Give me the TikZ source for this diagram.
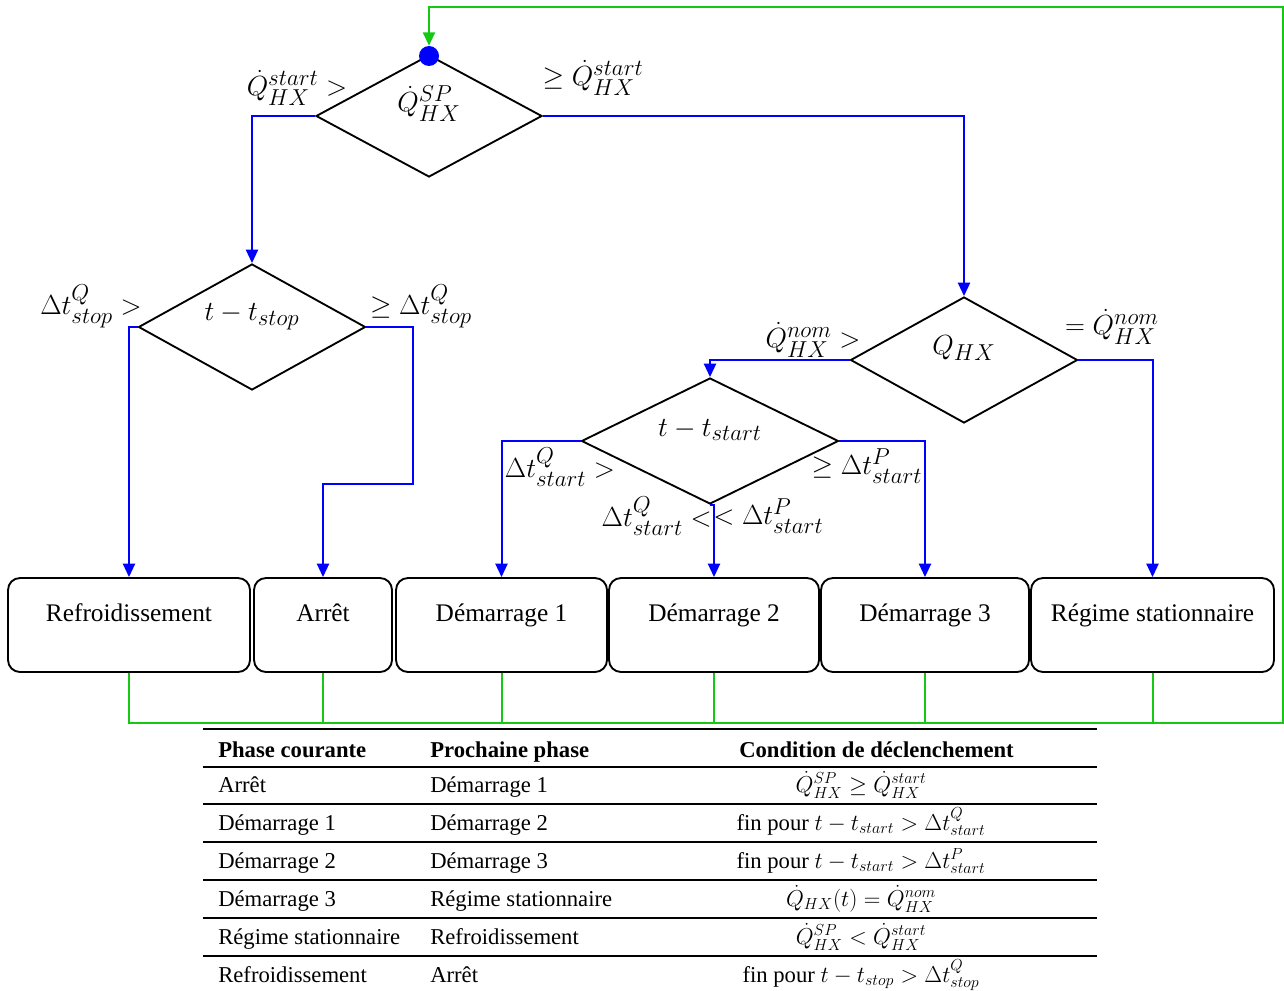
\documentclass[tikz,border=0pt]{standalone}
\usepackage{fontspec}
\setmainfont{Liberation Serif}
\usepackage{amsmath}
\DeclareMathSizes{20}{20}{16}{12}
\usetikzlibrary{arrows.meta,shapes.geometric}
\definecolor{gline}{RGB}{20,200,20}
\definecolor{bline}{RGB}{0,0,255}
\begin{document}
\begin{tikzpicture}[x=0.75pt,y=-0.75pt,
  dec/.style={diamond,draw=black,line width=1.4pt,inner sep=0pt},
  bl/.style={draw=bline,line width=1.5pt,-{Triangle[width=9pt,length=10pt]}},
  gr/.style={draw=gline,line width=1.5pt},
  box/.style={draw=black,line width=1.4pt,rounded corners=9pt,minimum height=70.5pt,inner sep=0pt},
  btxt/.style={anchor=base,inner sep=0pt,font=\fontsize{19}{22}\selectfont},
  lbl/.style={inner sep=0pt,font=\fontsize{20}{24}\selectfont},
  th/.style={anchor=base west,inner sep=0pt,font=\fontsize{17}{20}\selectfont\bfseries},
  td/.style={anchor=base west,inner sep=0pt,font=\fontsize{17}{20}\selectfont},
  tc/.style={anchor=base,inner sep=0pt,font=\fontsize{17}{20}\selectfont},
  rule/.style={line width=1.2pt},
  trule/.style={line width=1.8pt}]
\path[use as bounding box] (0,0) rectangle (1284,991);

% decision diamonds
\node[dec,minimum width=169.5pt,minimum height=91.5pt] (d1) at (429,116) {};
\node[dec,minimum width=170.25pt,minimum height=94.5pt] (d2) at (252,327) {};
\node[dec,minimum width=170.25pt,minimum height=94.5pt] (d3) at (964,360) {};
\node[dec,minimum width=192.75pt,minimum height=94.5pt] (d4) at (710,441) {};

\node[lbl] (d1t) at (429,104) {$\dot Q^{SP}_{HX}$};
\node[lbl] (d2t) at (252,317) {$t-t_{stop}$};
\node[lbl] (d3t) at (964,348) {$Q_{HX}$};
\node[lbl] (d4t) at (710,430) {$t-t_{start}$};

\node[circle,fill=bline,inner sep=0pt,minimum size=15pt] (dot) at (429,56) {};

% branch labels
\node[lbl] (l1) at (297,88) {$\dot Q^{start}_{HX} >$};
\node[lbl] (l2) at (593,78) {$\geq \dot Q^{start}_{HX}$};
\node[lbl] (l3) at (91,306) {$\Delta t^{Q}_{stop} >$};
\node[lbl] (l4) at (421,306) {$\geq \Delta t^{Q}_{stop}$};
\node[lbl] (l5) at (813,340) {$\dot Q^{nom}_{HX} >$};
\node[lbl] (l6) at (1112,327) {$= \dot Q^{nom}_{HX}$};
\node[lbl] (l7) at (560,467) {$\Delta t^{Q}_{start} >$};
\node[lbl] (l8) at (867,466) {$\geq \Delta t^{P}_{start}$};
\node[lbl,anchor=east] (l9) at (712,516) {$\Delta t^{Q}_{start} <$};
\node[lbl,anchor=west] (l10) at (713,516) {$< \Delta t^{P}_{start}$};

% phase boxes
\node[box,minimum width=181.5pt] (b1) at (129,625) {};
\node[box,minimum width=103.5pt] (b2) at (323,625) {};
\node[box,minimum width=158.25pt] (b3) at (501.5,625) {};
\node[box,minimum width=157.5pt] (b4) at (714,625) {};
\node[box,minimum width=156pt] (b5) at (925,625) {};
\node[box,minimum width=182.25pt] (b6) at (1152.5,625) {};

\node[btxt] (b1t) at (129,621) {Refroidissement};
\node[btxt] (b2t) at (323,621) {Arrêt};
\node[btxt] (b3t) at (501.5,621) {Démarrage 1};
\node[btxt] (b4t) at (714,621) {Démarrage 2};
\node[btxt] (b5t) at (925,621) {Démarrage 3};
\node[btxt] (b6t) at (1152.5,621) {Régime stationnaire};

% blue connectors
\coordinate (k1) at (413,484);
\draw[bl] (d1.west) -| (d2.north);
\draw[bl] (d1.east) -| (d3.north);
\draw[bl] (d2.west) -| (b1.north);
\draw[bl] (d2.east) -| (k1) -| (b2.north);
\draw[bl] (d3.west) -| (d4.north);
\draw[bl] (d3.east) -| (b6.north);
\draw[bl] (d4.west) -| (b3.north);
\draw[bl] (d4.east) -| (b5.north);
\draw[bl] (d4.south) -| (b4.north);

% green feedback
\coordinate (gb) at (1283,723);
\coordinate (gt) at (1283,7);
\draw[gr,-{Triangle[width=9pt,length=10pt]}] (b1.south) |- (gb) -- (gt) -| (dot.north);
\foreach \b in {b2,b3,b4,b5,b6} \draw[gr] (\b.south) -- (\b.south |- gb);

% table
\draw[trule] (203,729) -- (1097,729);
\draw[trule] (203,767) -- (1097,767);
\foreach \yy in {804,842,880,918,956} \draw[rule] (203,\yy) -- (1097,\yy);

\node[th] (h1) at (218,757) {Phase courante};
\node[th] (h2) at (430,757) {Prochaine phase};
\node[th] (h3) at (739,757) {Condition de déclenchement};

\node[td] (r1a) at (218,792) {Arrêt};
\node[td] (r1b) at (430,792) {Démarrage 1};
\node[tc] (r1c) at (861,792) {$\dot Q^{SP}_{HX} \geq \dot Q^{start}_{HX}$};

\node[td] (r2a) at (218,830) {Démarrage 1};
\node[td] (r2b) at (430,830) {Démarrage 2};
\node[tc] (r2c) at (861,830) {fin pour $t-t_{start} > \Delta t^{Q}_{start}$};

\node[td] (r3a) at (218,868) {Démarrage 2};
\node[td] (r3b) at (430,868) {Démarrage 3};
\node[tc] (r3c) at (861,868) {fin pour $t-t_{start} > \Delta t^{P}_{start}$};

\node[td] (r4a) at (218,906) {Démarrage 3};
\node[td] (r4b) at (430,906) {Régime stationnaire};
\node[tc] (r4c) at (861,906) {$\dot Q_{HX}(t) = \dot Q^{nom}_{HX}$};

\node[td] (r5a) at (218,944) {Régime stationnaire};
\node[td] (r5b) at (430,944) {Refroidissement};
\node[tc] (r5c) at (861,944) {$\dot Q^{SP}_{HX} < \dot Q^{start}_{HX}$};

\node[td] (r6a) at (218,982) {Refroidissement};
\node[td] (r6b) at (430,982) {Arrêt};
\node[tc] (r6c) at (861,982) {fin pour $t-t_{stop} > \Delta t^{Q}_{stop}$};
\end{tikzpicture}
\end{document}
